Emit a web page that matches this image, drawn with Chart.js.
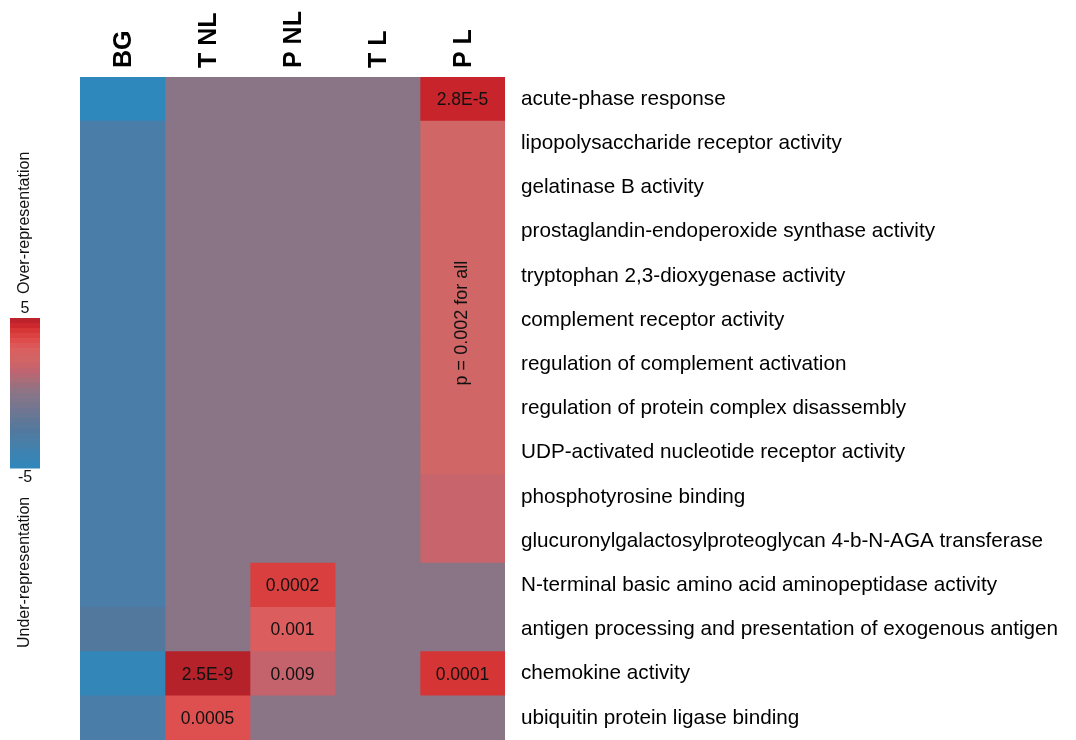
<!DOCTYPE html>
<html><head><meta charset="utf-8">
<script src="https://cdn.jsdelivr.net/npm/chart.js@4/dist/chart.umd.min.js"></script>
<style>html,body{margin:0;padding:0;background:#fff}#wrap{width:1076px;height:740px;position:relative}</style>
</head><body><div id="wrap"><canvas id="c" width="1076" height="740"></canvas></div>
<script>
const columns = ['BG', 'T NL', 'P NL', 'T L', 'P L'];
const terms = [
  'acute-phase response',
  'lipopolysaccharide receptor activity',
  'gelatinase B activity',
  'prostaglandin-endoperoxide synthase activity',
  'tryptophan 2,3-dioxygenase activity',
  'complement receptor activity',
  'regulation of complement activation',
  'regulation of protein complex disassembly',
  'UDP-activated nucleotide receptor activity',
  'phosphotyrosine binding',
  'glucuronylgalactosylproteoglycan 4-b-N-AGA transferase',
  'N-terminal basic amino acid aminopeptidase activity',
  'antigen processing and presentation of exogenous antigen',
  'chemokine activity',
  'ubiquitin protein ligase binding'
];
// enrichment scores (-5 = under-representation, 5 = over-representation)
const bgValues  = [-5, -3.2, -3.2, -3.2, -3.2, -3.2, -3.2, -3.2, -3.2, -3.2, -3.2, -3.2, -2.5, -4.7, -3.2];
const tnlValues = [0, 0, 0, 0, 0, 0, 0, 0, 0, 0, 0, 0, 0, 5, 3.4];
const pnlValues = [0, 0, 0, 0, 0, 0, 0, 0, 0, 0, 0, 3.9, 3.0, 1.6, 0];
const tlValues  = [0, 0, 0, 0, 0, 0, 0, 0, 0, 0, 0, 0, 0, 0, 0];
const plValues  = [4.6, 2.1, 2.1, 2.1, 2.1, 2.1, 2.1, 2.1, 2.1, 1.7, 1.7, 0, 0, 4.2, 0];
// p-value annotations: [column, row, text]
const cellNotes = [
  ['P L', 0, '2.8E-5'],
  ['P NL', 11, '0.0002'],
  ['P NL', 12, '0.001'],
  ['T NL', 13, '2.5E-9'],
  ['P NL', 13, '0.009'],
  ['P L', 13, '0.0001'],
  ['T NL', 14, '0.0005']
];
const groupNote = ['P L', 5, 'p = 0.002 for all'];
const scaleMax = 5, scaleMin = -5;
const scaleTitles = ['Over-representation', 'Under-representation'];

const allValues = [bgValues, tnlValues, pnlValues, tlValues, plValues];

const stops = [
  [-5, '#2e88bb'], [-3.2, '#4a7ea8'], [-2.5, '#52789d'], [0, '#8a7587'],
  [1.6, '#c5636d'], [2.1, '#d06666'], [3, '#dc5d5e'], [3.5, '#df4c4c'],
  [4.2, '#d63535'], [4.6, '#c8242b'], [5, '#b5222a']
];
function hex2rgb(h){ return [parseInt(h.substr(1,2),16), parseInt(h.substr(3,2),16), parseInt(h.substr(5,2),16)]; }
function colorFor(v){
  if (v <= stops[0][0]) return stops[0][1];
  for (let i = 1; i < stops.length; i++) {
    if (v <= stops[i][0]) {
      const t = (v - stops[i-1][0]) / (stops[i][0] - stops[i-1][0]);
      const a = hex2rgb(stops[i-1][1]), b = hex2rgb(stops[i][1]);
      const c = a.map((x, k) => Math.round(x + (b[k] - x) * t));
      return 'rgb(' + c.join(',') + ')';
    }
  }
  return stops[stops.length-1][1];
}

const FONT = "'Liberation Sans', Arial, Helvetica, sans-serif";

const annotations = {
  id: 'annotations',
  afterDatasetsDraw(chart) {
    const ctx = chart.ctx;
    ctx.save();
    ctx.fillStyle = '#111';
    ctx.textAlign = 'center';
    ctx.textBaseline = 'middle';
    ctx.font = '17.5px ' + FONT;
    cellNotes.forEach(([col, row, text]) => {
      const el = chart.getDatasetMeta(columns.indexOf(col)).data[row];
      ctx.fillText(text, (el.x + el.base) / 2, el.y + 1);
    });
    const el = chart.getDatasetMeta(columns.indexOf(groupNote[0])).data[groupNote[1]];
    ctx.translate((el.x + el.base) / 2, el.y + 3);
    ctx.rotate(-Math.PI / 2);
    ctx.font = '18px ' + FONT;
    ctx.fillText(groupNote[2], 0, 0);
    ctx.restore();
  }
};

const colorbar = {
  id: 'colorbar',
  afterDraw(chart) {
    const ctx = chart.ctx;
    const x0 = 10, w = 30, top = 318, bottom = 468, n = 30;
    ctx.save();
    const h = (bottom - top) / n;
    for (let i = 0; i < n; i++) {
      const v = scaleMax - (i + 0.5) * (scaleMax - scaleMin) / n;
      ctx.fillStyle = colorFor(v);
      ctx.fillRect(x0, top + i * h, w, h + 0.5);
    }
    ctx.fillStyle = '#111';
    ctx.font = '16px ' + FONT;
    ctx.textAlign = 'center';
    ctx.textBaseline = 'middle';
    ctx.fillText(String(scaleMax), 25, 309);
    ctx.fillText(String(scaleMin), 25, 478);
    ctx.save();
    ctx.translate(25, 294);
    ctx.rotate(-Math.PI / 2);
    ctx.textAlign = 'left';
    ctx.fillText(scaleTitles[0], 0, 0);
    ctx.restore();
    ctx.save();
    ctx.translate(25, 648);
    ctx.rotate(-Math.PI / 2);
    ctx.textAlign = 'left';
    ctx.fillText(scaleTitles[1], 0, 0);
    ctx.restore();
    ctx.restore();
  }
};

new Chart(document.getElementById('c'), {
  type: 'bar',
  data: {
    labels: terms,
    datasets: allValues.map((vals, j) => ({
      label: columns[j],
      data: vals.map(() => [j, j + 1]),
      backgroundColor: vals.map(colorFor),
      borderWidth: 0,
      borderSkipped: false,
      grouped: false,
      barPercentage: 1,
      categoryPercentage: 1
    }))
  },
  options: {
    indexAxis: 'y',
    responsive: false,
    animation: false,
    layout: { padding: { left: 80, top: 0, right: 0, bottom: 0 } },
    plugins: { legend: { display: false }, tooltip: { enabled: false } },
    scales: {
      x: {
        type: 'linear', position: 'top', min: 0, max: columns.length,
        grid: { display: false, drawTicks: false }, border: { display: false },
        afterBuildTicks: ax => { ax.ticks = columns.map((c, j) => ({ value: j + 0.5 })); },
        afterFit: s => { s.height = 77; s.paddingLeft = 0; s.paddingRight = 0; },
        ticks: {
          autoSkip: false, maxRotation: 90, minRotation: 90, padding: 9, labelOffset: 32,
          color: '#000', font: { family: FONT, size: 25, weight: 'bold' },
          callback: (v, i) => columns[i]
        }
      },
      y: {
        type: 'category', position: 'right',
        grid: { display: false, drawTicks: false }, border: { display: false },
        afterFit: s => { s.width = 571; s.paddingTop = 0; s.paddingBottom = 0; },
        ticks: { autoSkip: false, padding: 16, color: '#000', font: { family: FONT, size: 20.7 } }
      }
    }
  },
  plugins: [annotations, colorbar]
});
</script>
</body></html>
